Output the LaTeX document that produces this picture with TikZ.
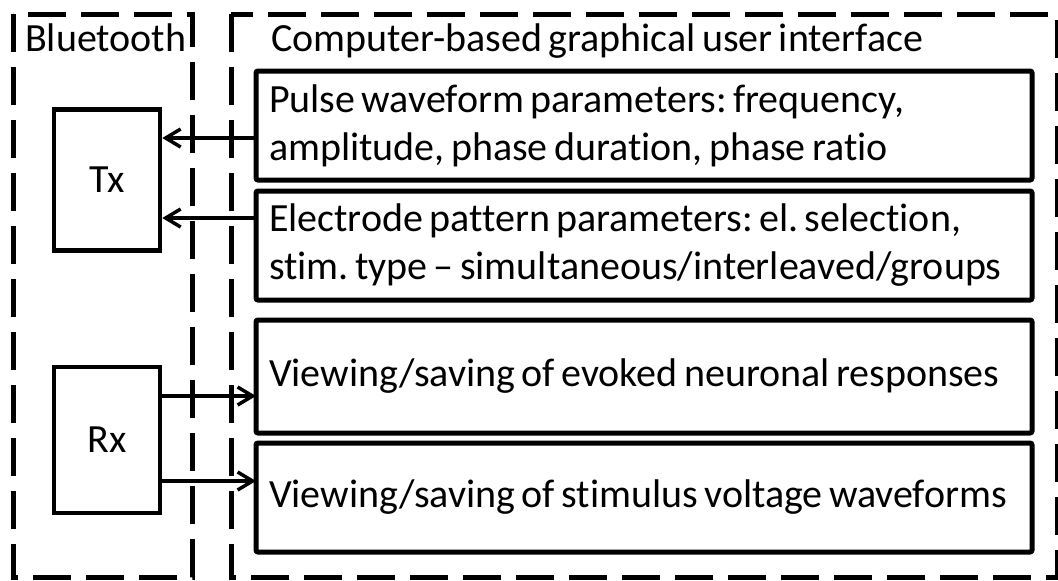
\documentclass[tikz,border=0pt]{standalone}
\usepackage{fontspec}
\setmainfont{Carlito}[Ligatures=NoCommon, WordSpace=0.7]
\usetikzlibrary{arrows.meta,positioning}

\begin{document}
\frenchspacing
\begin{tikzpicture}[x=1pt,y=-1pt,>={Straight Barb[length=15pt,width=18pt]},
  every node/.style={font=\fontsize{40}{48}\selectfont},
  grp/.style={draw, line width=5pt, dash pattern=on 38pt off 15pt},
  title/.style={anchor=base west, inner sep=0pt},
  unit/.style={draw, line width=4.5pt, minimum width=106pt},
  par/.style={draw, line width=5pt, rounded corners=2pt, text width=750pt,
    align=flush left, inner xsep=13pt, inner ysep=0pt, outer sep=0pt,
    minimum height=109pt},
  link/.style={->, line width=3.5pt}]
  \useasboundingbox (0,0) rectangle (1058,581);
  % dashed groups
  \draw[grp] (13,14) rectangle (192,577);
  \draw[grp] (231,14) rectangle (1057,577);
  \node[title] (bt) at (25,51) {Bluetooth};
  \node[title] (gui) at (271,51) {Computer-based graphical user interface};
  % radio units
  \node[unit, minimum height=141pt] (tx) at (107,180) {Tx};
  \node[unit, minimum height=146pt] (rx) at (107,440) {Rx};
  % parameter boxes
  \node[par] (pw) at (644,125.5) {Pulse waveform parameters: frequency,\\amplitude, phase duration, phase ratio};
  \node[par] (ep) [below=11pt of pw] {Electrode pattern parameters: el. selection,\\stim. type -- simultaneous/interleaved/groups};
  \node[par, minimum height=113pt] (nr) [below=20pt of ep] {Viewing/saving of evoked neuronal responses};
  \node[par] (sv) [below=10pt of nr] {Viewing/saving of stimulus voltage waveforms};
  % links
  \draw[link] ([yshift=-38pt]tx.east -| pw.west) -- ([yshift=-38pt]tx.east);
  \draw[link] ([yshift=42pt]tx.east -| ep.west) -- ([yshift=42pt]tx.east);
  \draw[link] ([yshift=-41pt]rx.east) -- ([yshift=-41pt]rx.east -| nr.west);
  \draw[link] ([yshift=44pt]rx.east) -- ([yshift=44pt]rx.east -| sv.west);
\end{tikzpicture}
\end{document}
